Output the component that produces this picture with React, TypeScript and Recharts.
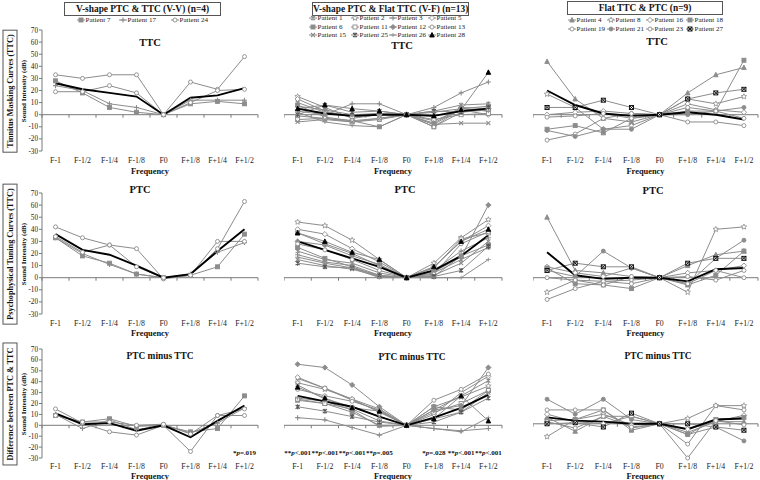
import React from 'react';
import { LineChart, Line, XAxis, YAxis, ReferenceLine } from 'recharts';

const FONT = "'Liberation Serif', 'Times New Roman', serif";
const GRAY = '#8c8c8c';

const freqs = ['F-1', 'F-1/2', 'F-1/4', 'F-1/8', 'F0', 'F+1/8', 'F+1/4', 'F+1/2'];
const yTicks = [-30, -20, -10, 0, 10, 20, 30, 40, 50, 60, 70];

// V-shape PTC & TTC (V-V): Patient 7, 17, 24, + one unlisted
const vvNames = ['Patient 7', 'Patient 17', 'Patient 24'];
const vvTTC = [
  [28, 18, 6, 2, 0, 9, 11, 9],
  [24, 20, 9, 6, 0, 12, 12, 12],
  [33, 30, 33, 33, 0, 27, 21, 48],
  [19, 19, 24, 18, 0, 10, 20, 21],
];
const vvTTCMean = [26, 21, 18, 15, 0, 14, 16, 22];
const vvPTC = [
  [33, 18, 12, 3, 0, 2, 9, 36],
  [33, 20, 11, 3, 0, 3, 21, 29],
  [42, 33, 27, 24, -1, 2, 24, 63],
  [34, 21, 27, 9, 0, 2, 30, 30],
];
const vvPTCMean = [36, 23, 19, 10, 0, 3, 22, 40];
const vvDiff = [
  [9, 3, 6, -1, 0, -6, -3, 27],
  [10, -3, 5, -4, 0, -7, 2, 16],
  [15, 2, -6, -9, 0, -24, 9, 15],
  [9, 3, 3, 0, 1, -8, 9, 9],
];
const vvDiffMean = [11, 1, 2, -5, 0, -11, 4, 18];
const vvP = ['', '', '', '', '', '', '', '*p=.019'];

// V-shape PTC & Flat TTC (V-F)
const vfNames = ['Patient 1', 'Patient 2', 'Patient 3', 'Patient 5', 'Patient 6', 'Patient 11',
  'Patient 12', 'Patient 13', 'Patient 15', 'Patient 25', 'Patient 26', 'Patient 28'];
const vfTTC = [
  [10, 2, -1, 1, 0, 3, 8, 9],
  [15, 6, -3, 0, 0, -8, 5, 3],
  [3, 0, 9, 9, 0, 6, 18, 27],
  [13, 3, -2, 0, 0, -5, 4, 0],
  [8, -2, -5, -10, 0, -10, 5, 7],
  [-4, -3, -6, -4, 0, -4, 0, 1],
  [7, 4, 0, 1, 0, -7, 6, 5],
  [-1, -3, -5, -3, 0, -10, 2, 4],
  [-6, -4, -6, -3, 0, -8, -7, -7],
  [0, 8, 2, 3, 0, 3, 2, 6],
  [2, -6, -9, -10, 0, 2, 5, 3],
  [5, 8, 5, 3, 0, -1, 4, 35],
];
const vfTTCMean = [5, 1, -1, 0, 0, -1, 3, 5];
const vfPTC = [
  [22, 15, 12, 4, 0, 4, 15, 25],
  [46, 43, 31, 15, 0, 12, 33, 48],
  [19, 13, 10, 2, 0, 6, 22, 33],
  [40, 36, 24, 13, 0, 9, 30, 43],
  [25, 16, 9, 1, 0, 1, 18, 27],
  [37, 28, 20, 10, 0, 8, 32, 37],
  [30, 27, 18, 11, 0, 5, 17, 60],
  [28, 23, 15, 6, 0, 3, 28, 38],
  [15, 10, 7, 1, 0, 2, 12, 30],
  [12, 9, 8, 2, 0, 1, 6, 26],
  [17, 12, 8, 0, 0, 0, 0, 15],
  [37, 30, 21, 15, 0, 9, 30, 40],
];
const vfPTCMean = [30, 23, 16, 9, 0, 6, 18, 35];
const vfDiff = [
  [43, 34, 23, 13, 0, 14, 27, 41],
  [39, 33, 24, 12, 0, 17, 26, 36],
  [7, 5, -2, -9, 0, -3, -5, -3],
  [44, 34, 24, 15, 0, 10, 30, 45],
  [23, 20, 12, 0, 0, 17, 14, 32],
  [24, 20, 15, 4, 0, 12, 20, 32],
  [56, 53, 37, 17, 0, 14, 18, 53],
  [33, 27, 22, 14, 0, 23, 33, 47],
  [37, 24, 17, 8, 0, 6, 12, 30],
  [17, 13, 8, 3, 0, 3, 12, 25],
  [25, 22, 14, -1, 0, -3, -6, 7],
  [35, 25, 16, 13, 0, 6, 27, 4],
];
const vfDiffMean = [27, 22, 17, 8, 0, 7, 16, 28];
const vfP = ['**p<.001', '**p<.001', '**p<.001', '**p=.005', '', '*p=.028', '**p<.001', '**p<.001'];

// Flat TTC & PTC
const ftNames = ['Patient 4', 'Patient 8', 'Patient 16', 'Patient 18', 'Patient 19', 'Patient 21', 'Patient 23', 'Patient 27'];
const ftTTC = [
  [44, 13, -3, -6, 0, 18, 33, 39],
  [17, 6, -12, -9, 0, 13, 9, 15],
  [0, 2, 3, 1, 0, 9, 4, 2],
  [-12, -9, -15, -3, 0, 3, 3, 45],
  [-21, -16, -3, 1, 0, -6, -6, -9],
  [-13, -18, -12, -12, 0, 0, 3, 6],
  [-2, -1, 1, -3, 0, 6, 3, -3],
  [6, 6, 12, 6, 0, 13, 18, 21],
];
const ftTTCMean = [20, 8, 1, -1, 0, 2, 0, -4];
const ftPTC = [
  [50, 6, 4, 1, 0, 10, 19, 22],
  [-12, -2, -3, -2, 0, -12, 40, 42],
  [9, 4, 1, 8, 0, 4, 6, 10],
  [8, -5, -6, -9, 0, -6, 2, 22],
  [-18, -9, -3, -5, 0, 1, -2, 6],
  [6, 1, 22, 8, 0, -5, 16, 31],
  [0, -2, -6, 1, 0, -5, 6, 0],
  [6, 12, 9, 9, 0, 12, 16, 16],
];
const ftPTCMean = [21, 2, -1, 0, 0, -3, 7, 8];
const ftDiff = [
  [6, -7, 7, 7, 0, -8, 2, 2],
  [-12, 4, 9, -1, 0, 5, 17, 17],
  [9, 2, 0, 7, 0, -5, 2, 8],
  [3, 4, 13, -6, 0, -10, 4, 6],
  [13, 13, 13, -4, 0, -19, 17, 13],
  [23, 9, 23, 4, 0, -10, -3, -16],
  [2, -4, 7, -3, 0, -32, 3, -1],
  [0, 1, -3, 10, 0, 0, -3, -6],
];
const ftDiffMean = [6, 3, 2, 0, 0, -5, 4, 5];

type Mk = { kind: string; fill: string; stroke: string };

const vvStyles: Mk[] = [
  { kind: 'square', fill: GRAY, stroke: GRAY },
  { kind: 'plus', fill: GRAY, stroke: GRAY },
  { kind: 'circle', fill: '#fff', stroke: GRAY },
  { kind: 'circle', fill: '#fff', stroke: GRAY },
];
const vfStyles: Mk[] = [
  { kind: 'asterisk', fill: GRAY, stroke: GRAY },
  { kind: 'star', fill: '#fff', stroke: GRAY },
  { kind: 'plus', fill: GRAY, stroke: GRAY },
  { kind: 'diamond', fill: '#fff', stroke: GRAY },
  { kind: 'square', fill: GRAY, stroke: GRAY },
  { kind: 'square', fill: '#fff', stroke: GRAY },
  { kind: 'diamond', fill: GRAY, stroke: GRAY },
  { kind: 'circle', fill: '#fff', stroke: GRAY },
  { kind: 'x', fill: GRAY, stroke: GRAY },
  { kind: 'asterisk', fill: '#555', stroke: '#555' },
  { kind: 'dash', fill: GRAY, stroke: GRAY },
  { kind: 'triangle', fill: '#000', stroke: '#000' },
];
const ftStyles: Mk[] = [
  { kind: 'triangle', fill: GRAY, stroke: GRAY },
  { kind: 'star', fill: '#fff', stroke: GRAY },
  { kind: 'diamond', fill: '#fff', stroke: GRAY },
  { kind: 'square', fill: GRAY, stroke: GRAY },
  { kind: 'circle', fill: '#fff', stroke: GRAY },
  { kind: 'circle', fill: GRAY, stroke: GRAY },
  { kind: 'circle', fill: '#fff', stroke: GRAY },
  { kind: 'boxx', fill: '#fff', stroke: '#000' },
];

function MarkerShape({ kind, x, y, fill, stroke }: { kind: string; x: number; y: number; fill: string; stroke: string }) {
  const r = 2;
  switch (kind) {
    case 'circle':
      return <circle cx={x} cy={y} r={r} fill={fill} stroke={stroke} strokeWidth={0.9} />;
    case 'square':
      return <rect x={x - r} y={y - r} width={2 * r} height={2 * r} fill={fill} stroke={stroke} strokeWidth={0.9} />;
    case 'diamond':
      return <polygon points={`${x},${y - r - 0.6} ${x + r + 0.6},${y} ${x},${y + r + 0.6} ${x - r - 0.6},${y}`} fill={fill} stroke={stroke} strokeWidth={0.9} />;
    case 'triangle':
      return <polygon points={`${x},${y - r - 0.5} ${x + r + 0.3},${y + r} ${x - r - 0.3},${y + r}`} fill={fill} stroke={stroke} strokeWidth={0.9} />;
    case 'x':
      return <path d={`M${x - r},${y - r}L${x + r},${y + r}M${x - r},${y + r}L${x + r},${y - r}`} stroke={stroke} strokeWidth={1.1} />;
    case 'plus':
      return <path d={`M${x - r - 0.5},${y}L${x + r + 0.5},${y}M${x},${y - r - 0.5}L${x},${y + r + 0.5}`} stroke={stroke} strokeWidth={1.1} />;
    case 'dash':
      return <path d={`M${x - r - 0.5},${y}L${x + r + 0.5},${y}M${x},${y - r}L${x},${y + r}`} stroke={stroke} strokeWidth={0.8} />;
    case 'asterisk':
      return <path d={`M${x - r},${y - r}L${x + r},${y + r}M${x - r},${y + r}L${x + r},${y - r}M${x},${y - r - 0.5}L${x},${y + r + 0.5}`} stroke={stroke} strokeWidth={1.1} />;
    case 'boxx':
      return (
        <g>
          <rect x={x - r} y={y - r} width={2 * r} height={2 * r} fill={fill} stroke={stroke} strokeWidth={0.9} />
          <path d={`M${x - r},${y - r}L${x + r},${y + r}M${x - r},${y + r}L${x + r},${y - r}`} stroke={stroke} strokeWidth={0.9} />
        </g>
      );
    case 'star': {
      const pts: string[] = [];
      for (let i = 0; i < 10; i++) {
        const rad = i % 2 === 0 ? r + 0.9 : (r + 0.9) * 0.45;
        const a = -Math.PI / 2 + (i * Math.PI) / 5;
        pts.push(`${x + rad * Math.cos(a)},${y + rad * Math.sin(a)}`);
      }
      return <polygon points={pts.join(' ')} fill={fill} stroke={stroke} strokeWidth={0.8} />;
    }
    default:
      return null;
  }
}

function ZeroAxis(props: any) {
  const { x1, x2, y1 } = props;
  if (x1 == null || y1 == null) return null;
  const n = freqs.length;
  const step = (x2 - x1) / n;
  return (
    <g>
      <line x1={x1} x2={x2} y1={y1} y2={y1} stroke="#7a7a7a" strokeWidth={1} />
      {Array.from({ length: n + 1 }, (_, i) => (
        <line key={i} x1={x1 + i * step} x2={x1 + i * step} y1={y1} y2={y1 + 3} stroke="#7a7a7a" strokeWidth={1} />
      ))}
    </g>
  );
}

function PText({ x, y, text }: { x: number; y: number; text: string }) {
  const m = text.match(/^(\**)p(.*)$/);
  if (!m) return null;
  return (
    <text x={x} y={y} textAnchor="middle" fontSize={7} fontWeight="bold" fill="#111" fontFamily={FONT}>
      <tspan>{m[1]}</tspan>
      <tspan fontStyle="italic">p</tspan>
      <tspan>{m[2]}</tspan>
    </text>
  );
}

const makeTick = (pv: string[] | undefined, dyLabel: number) => (props: any) => {
  const { x, y, payload, index } = props;
  const p = pv ? pv[index] : '';
  return (
    <g>
      {p ? <PText x={x} y={y - 3} text={p} /> : null}
      <text x={x} y={y + dyLabel} textAnchor="middle" fontSize={7.8} fill="#222" fontFamily={FONT}>
        {payload.value}
      </text>
    </g>
  );
};

type PanelProps = {
  left: number; top: number; w: number; h: number;
  rows: number[][]; mean: number[]; styles: Mk[];
  showY: boolean; pvals?: string[]; freqOffset: number; labelDy: number;
};

function Panel({ left, top, w, h, rows, mean, styles, showY, pvals, freqOffset, labelDy }: PanelProps) {
  const data = freqs.map((f, i) => {
    const d: any = { f, mean: mean[i] };
    rows.forEach((r, k) => { d['s' + k] = r[i]; });
    return d;
  });
  const yW = showY ? 26 : 0;
  const mt = 6, mr = 4, xh = 26;
  return (
    <div style={{ position: 'absolute', left: left - yW, top: top - mt }}>
      <LineChart width={yW + w + mr} height={mt + h + xh} data={data} margin={{ top: mt, right: mr, left: 0, bottom: 0 }}>
        <XAxis
          dataKey="f"
          interval={0}
          axisLine={false}
          tickLine={false}
          tickSize={0}
          tickMargin={0}
          height={xh}
          padding={{ left: w / 16, right: w / 16 }}
          tick={makeTick(pvals, labelDy)}
          label={{ value: 'Frequency', position: 'insideBottom', offset: freqOffset, fontSize: 8.4, fontWeight: 'bold', fill: '#111', fontFamily: FONT }}
        />
        {showY ? (
          <YAxis
            domain={[-30, 70]}
            ticks={yTicks}
            interval={0}
            width={yW}
            tickSize={3}
            tickMargin={1}
            axisLine={{ stroke: '#7a7a7a' }}
            tickLine={{ stroke: '#7a7a7a' }}
            tick={{ fontSize: 7.2, fill: '#222', fontFamily: FONT }}
          />
        ) : (
          <YAxis hide domain={[-30, 70]} />
        )}
        <ReferenceLine y={0} shape={ZeroAxis} />
        {rows.map((_, k) => {
          const st = styles[k];
          return (
            <Line
              key={k}
              dataKey={'s' + k}
              stroke={GRAY}
              strokeWidth={1}
              isAnimationActive={false}
              activeDot={false}
              dot={(p: any) =>
                p.cx == null ? <g key={p.index} /> : (
                  <g key={p.index}><MarkerShape kind={st.kind} x={p.cx} y={p.cy} fill={st.fill} stroke={st.stroke} /></g>
                )
              }
            />
          );
        })}
        <Line dataKey="mean" stroke="#000" strokeWidth={1.9} dot={false} activeDot={false} isAnimationActive={false} />
      </LineChart>
    </div>
  );
}

function LegendItem({ name, mk, left, cy }: { name: string; mk: Mk; left: number; cy: number }) {
  return (
    <div style={{ position: 'absolute', left, top: cy - 5, height: 10, display: 'flex', alignItems: 'center', fontSize: 7.1, fontFamily: FONT, color: '#222', whiteSpace: 'nowrap' }}>
      <svg width={8} height={8} style={{ display: 'block' }}>
        <line x1={0} x2={8} y1={4} y2={4} stroke={GRAY} strokeWidth={1} />
        <MarkerShape kind={mk.kind} x={4} y={4} fill={mk.fill} stroke={mk.stroke} />
      </svg>
      <span style={{ marginLeft: 0.5 }}>{name}</span>
    </div>
  );
}

function HeaderBox({ text, left, top, width }: { text: string; left: number; top: number; width: number }) {
  return (
    <div style={{ position: 'absolute', left, top, width, height: 12, border: '1px solid #555', fontFamily: FONT, fontWeight: 'bold', fontSize: 9.4, lineHeight: '12px', textAlign: 'center', whiteSpace: 'nowrap', color: '#111' }}>
      {text}
    </div>
  );
}

function Rotated({ text, cx, cy, size, boxed }: { text: string; cx: number; cy: number; size: number; boxed?: boolean }) {
  return (
    <div style={{
      position: 'absolute', left: cx, top: cy, transform: 'translate(-50%, -50%) rotate(-90deg)',
      fontFamily: FONT, fontWeight: 'bold', fontSize: size, whiteSpace: 'nowrap', color: '#111',
      border: boxed ? '1px solid #555' : 'none', padding: boxed ? '1px 4px' : 0, lineHeight: boxed ? '11px' : '9px',
    }}>
      {text}
    </div>
  );
}

const colX = [42, 284, 533];
const colW = [216, 218, 225];
const rowY = [30, 193, 349];
const rowH = [121, 121, 109];
const freqOff = [3, 4, 5];
const labelDys = [12, 12, 10.5];
const rowTitles = ['TTC', 'PTC', 'PTC minus TTC'];
const titleX = [[150, 402, 657], [140, 405, 653], [160, 412, 658]];
const titleY = [[42, 45, 41], [189, 189, 190], [356, 357, 356]];
const sideLabels = ['Tinnitus Masking Curves (TTC)', 'Psychophysical Tuning Curves (TTC)', 'Difference between PTC & TTC'];

export default function App() {
  const groups = [
    { rows: [vvTTC, vvPTC, vvDiff], means: [vvTTCMean, vvPTCMean, vvDiffMean], styles: vvStyles, p: vvP },
    { rows: [vfTTC, vfPTC, vfDiff], means: [vfTTCMean, vfPTCMean, vfDiffMean], styles: vfStyles, p: vfP },
    { rows: [ftTTC, ftPTC, ftDiff], means: [ftTTCMean, ftPTCMean, ftDiffMean], styles: ftStyles, p: undefined },
  ];
  const legends = [
    { names: vvNames, styles: vvStyles, xs: [77, 119, 171], ys: [20] },
    { names: vfNames, styles: vfStyles, xs: [309, 351, 389, 428], ys: [18, 26.7, 35.3] },
    { names: ftNames, styles: ftStyles, xs: [568, 607, 646, 686], ys: [20, 28.5] },
  ];
  return (
    <div style={{ position: 'absolute', left: 0, top: 0, width: 760, height: 480, overflow: 'hidden', background: '#fff' }}>
      <HeaderBox text="V-shape PTC & TTC (V-V) (n=4)" left={64} top={2} width={155} />
      <HeaderBox text="V-shape PTC & Flat TTC (V-F) (n=13)" left={312} top={2} width={155} />
      <HeaderBox text="Flat TTC & PTC (n=9)" left={567} top={1} width={154} />
      {legends.map((lg, g) =>
        lg.names.map((n, i) => (
          <LegendItem key={g + '-' + i} name={n} mk={lg.styles[i]} left={lg.xs[i % lg.xs.length]} cy={lg.ys[Math.floor(i / lg.xs.length)]} />
        ))
      )}
      {rowY.map((ry, r) => (
        <React.Fragment key={r}>
          <Rotated text={sideLabels[r]} cx={10} cy={ry + rowH[r] / 2} size={8.2} boxed />
          <Rotated text="Sound Intensity (dB)" cx={23.5} cy={ry + rowH[r] / 2} size={7} />
          {groups.map((g, c) => (
            <Panel
              key={c}
              left={colX[c]}
              top={ry}
              w={colW[c]}
              h={rowH[r]}
              rows={g.rows[r]}
              mean={g.means[r]}
              styles={g.styles}
              showY={c === 0}
              pvals={r === 2 ? g.p : undefined}
              freqOffset={freqOff[r]}
              labelDy={labelDys[r]}
            />
          ))}
          {groups.map((_, c) => (
            <div key={'t' + c} style={{ position: 'absolute', left: titleX[r][c], top: titleY[r][c], transform: 'translate(-50%, -50%)', fontFamily: FONT, fontWeight: 'bold', fontSize: r === 2 ? 9.4 : 10.5, whiteSpace: 'nowrap', color: '#111' }}>
              {rowTitles[r]}
            </div>
          ))}
        </React.Fragment>
      ))}
    </div>
  );
}
